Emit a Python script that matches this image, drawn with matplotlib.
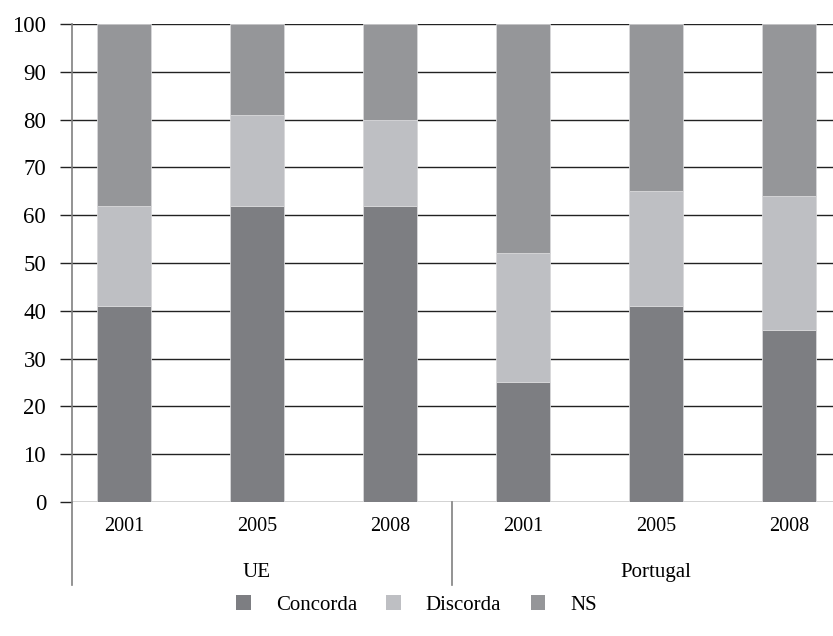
import numpy as np
import matplotlib.pyplot as plt
from matplotlib.patches import Patch

# ------------------------------
# Data
# ------------------------------

groups = ["UE", "Portugal"]
years = ["2001", "2005", "2008", "2001", "2005", "2008"]
concorda = np.array([41, 62, 62, 25, 41, 36])
discorda = np.array([21, 19, 18, 27, 24, 28])
ns = np.array([38, 19, 20, 48, 35, 36])

colors = {"Concorda": "#7d7e82", "Discorda": "#bebfc3", "NS": "#959699"}

plt.rcParams["font.family"] = ["Liberation Serif", "DejaVu Serif"]

# ------------------------------
# Plot
# ------------------------------

fig = plt.figure(figsize=(8.33, 6.36), dpi=100)
ax = fig.add_axes([0.0864, 0.2107, 1 - 0.0864, 0.9623 - 0.2107])

x = np.arange(len(years))
w = 0.41
ax.bar(x, concorda, w, color=colors["Concorda"], edgecolor="#d8d8da", linewidth=0.6, zorder=3)
ax.bar(x, discorda, w, bottom=concorda, color=colors["Discorda"], edgecolor="#d8d8da", linewidth=0.6, zorder=3)
ax.bar(x, ns, w, bottom=concorda + discorda, color=colors["NS"], edgecolor="#d8d8da", linewidth=0.6, zorder=3)

ax.set_xlim(-0.39, 5.33)
ax.set_ylim(0, 100)
ax.set_yticks(np.arange(0, 101, 10))
ax.yaxis.grid(True, color="#222222", linewidth=1.0, zorder=1)
ax.tick_params(axis="y", length=8.6, width=1.0, color="#222222", pad=10, labelsize=16.5)
ax.set_xticks(x)
ax.set_xticklabels(years)
ax.tick_params(axis="x", length=0, pad=11, labelsize=14.5)

for s in ["top", "right", "left", "bottom"]:
    ax.spines[s].set_visible(False)

# y-axis line, running down past the year row
ax.plot([-0.39, -0.39], [-0.174, 1.0], transform=ax.get_xaxis_transform(),
        color="#808080", linewidth=1.2, clip_on=False, zorder=4)
# group separator
ax.plot([2.47, 2.47], [-0.174, 0.0], transform=ax.get_xaxis_transform(),
        color="#808080", linewidth=1.2, clip_on=False, zorder=4)

for i, g in enumerate(groups):
    ax.text(1 + 3 * i, -0.148, g, transform=ax.get_xaxis_transform(),
            ha="center", va="center", fontsize=15)

handles = [Patch(facecolor=c, edgecolor="none", label=k) for k, c in colors.items()]
fig.legend(handles=handles, loc="center", bbox_to_anchor=(0.5, 0.049), ncol=3,
           frameon=False, fontsize=15, handlelength=0.7, handleheight=0.7,
           columnspacing=1.4, handletextpad=1.2)

plt.savefig("out.png", dpi=100)
